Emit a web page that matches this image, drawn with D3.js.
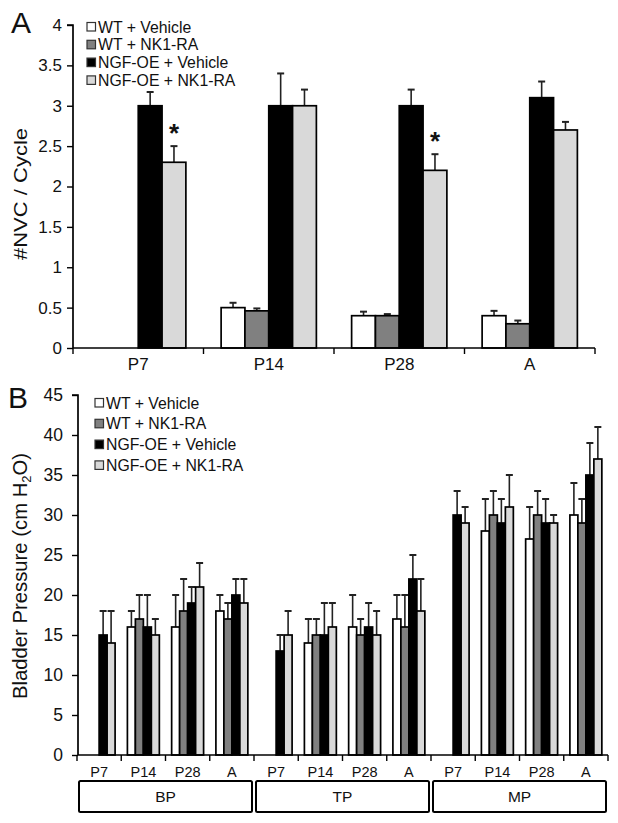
<!DOCTYPE html>
<html><head><meta charset="utf-8">
<script src="https://cdn.jsdelivr.net/npm/d3@7"></script>
<style>body{margin:0;background:#fff}svg{display:block;font-family:"Liberation Sans",Arial,sans-serif}</style>
</head><body><svg id="c" width="618" height="823"></svg>
<script>
// ---------- data ----------
const seriesNames = ["WT + Vehicle","WT + NK1-RA","NGF-OE + Vehicle","NGF-OE + NK1-RA"];
const seriesColors = ["#ffffff","#808080","#000000","#d9d9d9"];

// Panel A
const agesA = ["P7","P14","P28","A"];
const aWtVeh   = [null,0.5,0.4,0.4];
const aWtNK    = [null,0.46,0.4,0.3];
const aNgfVeh  = [3.0,3.0,3.0,3.1];
const aNgfNK   = [2.3,3.0,2.2,2.7];
const aWtVehErr  = [null,0.06,0.05,0.06];
const aWtNKErr   = [null,0.03,0.02,0.04];
const aNgfVehErr = [0.17,0.4,0.2,0.2];
const aNgfNKErr  = [0.2,0.2,0.2,0.1];
const aStarAge = ["P7","P28"]; // significance marks on NGF-OE + NK1-RA
const yTicksA = [0,0.5,1,1.5,2,2.5,3,3.5,4];

// Panel B
const phasesB = ["BP","TP","MP"];
const agesB = ["P7","P14","P28","A"];
const bWtVeh   = [null,16,16,18, null,14,16,17, null,28,27,30];
const bWtNK    = [null,17,18,17, null,15,15,16, null,30,30,29];
const bNgfVeh  = [15,16,19,20, 13,15,16,22, 30,29,29,35];
const bNgfNK   = [14,15,21,19, 15,16,15,18, 29,31,29,37];
const bWtVehErr  = [null,2,4,2, null,3,4,3, null,4,4,4];
const bWtNKErr   = [null,3,4,2, null,2,2,4, null,3,3,3];
const bNgfVehErr = [3,4,2,2, 2,4,3,3, 3,3,3,4];
const bNgfNKErr  = [4,2,3,3, 3,3,3,4, 2,4,1,4];
const yTicksB = [0,5,10,15,20,25,30,35,40,45];

// ---------- drawing ----------
const svg = d3.select("#c");
const font = "'Liberation Sans', Arial, sans-serif";
const ink = "#111";

function drawBars(g, cats, xOuter, xInner, y, valsList, errList){
  cats.forEach((c,ci)=>{
    valsList.forEach((vals,si)=>{
      const v = vals[ci]; if(v==null) return;
      const e = errList[si][ci];
      const x = xOuter(c)+xInner(si);
      const w = xInner.bandwidth();
      const cx = x + w/2;
      if(e){
        g.append("line").attr("x1",cx).attr("x2",cx).attr("y1",y(v)).attr("y2",y(v+e))
          .attr("stroke","#222").attr("stroke-width",1.6);
        g.append("line").attr("x1",cx-3.5).attr("x2",cx+3.5).attr("y1",y(v+e)).attr("y2",y(v+e))
          .attr("stroke","#222").attr("stroke-width",2);
      }
      g.append("rect").attr("x",x).attr("y",y(v)).attr("width",w).attr("height",y(0)-y(v))
        .attr("fill",seriesColors[si]).attr("stroke","#000").attr("stroke-width",1.7);
    });
  });
}

function legend(g, x0, y0, dy, fs){
  seriesNames.forEach((n,i)=>{
    g.append("rect").attr("x",x0).attr("y",y0+i*dy-4.5).attr("width",8.5).attr("height",8.5)
      .attr("fill",seriesColors[i]).attr("stroke","#333").attr("stroke-width",1.2);
    g.append("text").attr("x",x0+11).attr("y",y0+i*dy).attr("dy","0.36em")
      .attr("font-size",fs).attr("fill",ink).text(n);
  });
}

function yAxis(g, y, x, ticks, fmt, fs, pad){
  const ax = d3.axisLeft(y).tickValues(ticks).tickSize(6).tickPadding(pad).tickFormat(fmt);
  const a = g.append("g").attr("transform",`translate(${x},0)`).call(ax);
  a.select(".domain").attr("stroke","#000").attr("stroke-width",1.7).attr("d",`M-6,${y(ticks[ticks.length-1])}H0V${y(0)}`);
  a.selectAll(".tick line").attr("stroke","#000").attr("stroke-width",1.4);
  a.selectAll(".tick text").attr("font-size",fs).attr("font-family",font).attr("fill",ink);
  return a;
}

// ===== Panel A =====
{
  const g = svg.append("g");
  const y = d3.scaleLinear().domain([0,4]).range([348,25]);
  const x = d3.scaleBand().domain(agesA).range([73,595]).padding(0);
  const xi = d3.scaleBand().domain([0,1,2,3]).range([0,x.bandwidth()]).paddingInner(0).paddingOuter(0.74);
  drawBars(g, agesA, x, xi, y, [aWtVeh,aWtNK,aNgfVeh,aNgfNK], [aWtVehErr,aWtNKErr,aNgfVehErr,aNgfNKErr]);
  yAxis(g, y, 73, yTicksA, d=>d3.format("")(d), 17, 5);
  g.append("line").attr("x1",73).attr("x2",595).attr("y1",y(0)).attr("y2",y(0)).attr("stroke","#000").attr("stroke-width",1.7);
  agesA.concat([null]).forEach(c=>{
    const xx = c==null ? x.range()[1] : x(c);
    g.append("line").attr("x1",xx).attr("x2",xx).attr("y1",y(0)).attr("y2",y(0)+6).attr("stroke","#000").attr("stroke-width",1.4);
  });
  agesA.forEach(c=>{
    g.append("text").attr("x",x(c)+x.bandwidth()/2).attr("y",370).attr("text-anchor","middle")
      .attr("font-size",17).attr("fill",ink).text(c);
  });
  aStarAge.forEach(c=>{
    const ci = agesA.indexOf(c);
    const v = aNgfNK[ci]+aNgfNKErr[ci];
    g.append("text").attr("x",x(c)+xi(3)+xi.bandwidth()/2).attr("y",y(v)-4).attr("text-anchor","middle")
      .attr("font-size",26).attr("font-weight","bold").attr("fill",ink).text("*");
  });
  legend(g, 87, 27, 17.8, 15.8);
  g.append("text").attr("transform","translate(27,194) rotate(-90)").attr("text-anchor","middle")
    .attr("font-size",19).attr("textLength",132).attr("lengthAdjust","spacingAndGlyphs")
    .attr("fill",ink).text("#NVC / Cycle");
  g.append("text").attr("x",11).attr("y",33).attr("font-size",30).attr("fill",ink).text("A");
}

// ===== Panel B =====
{
  const g = svg.append("g");
  const y = d3.scaleLinear().domain([0,45]).range([755,395]);
  const keys = [];
  phasesB.forEach(p=>agesB.forEach(a=>keys.push(p+"|"+a)));
  const x = d3.scaleBand().domain(keys).range([77,608]).padding(0);
  const xi = d3.scaleBand().domain([0,1,2,3]).range([0,x.bandwidth()]).paddingInner(0).paddingOuter(0.77);
  drawBars(g, keys, x, xi, y, [bWtVeh,bWtNK,bNgfVeh,bNgfNK], [bWtVehErr,bWtNKErr,bNgfVehErr,bNgfNKErr]);
  yAxis(g, y, 78, yTicksB, d=>d, 17.5, 9);
  g.append("line").attr("x1",78).attr("x2",608).attr("y1",y(0)).attr("y2",y(0)).attr("stroke","#000").attr("stroke-width",1.7);
  keys.concat([null]).forEach(k=>{
    const xx = k==null ? x.range()[1] : x(k);
    g.append("line").attr("x1",xx).attr("x2",xx).attr("y1",y(0)).attr("y2",y(0)+6).attr("stroke","#000").attr("stroke-width",1.4);
  });
  keys.forEach(k=>{
    g.append("text").attr("x",x(k)+x.bandwidth()/2).attr("y",777).attr("text-anchor","middle")
      .attr("font-size",14.5).attr("fill",ink).text(k.split("|")[1]);
  });
  phasesB.forEach(p=>{
    const x0 = x(p+"|"+agesB[0]);
    const x1 = x(p+"|"+agesB[agesB.length-1])+x.bandwidth();
    g.append("rect").attr("x",x0+2).attr("y",781).attr("width",x1-x0-4).attr("height",31).attr("rx",1.5)
      .attr("fill","#fff").attr("stroke","#000").attr("stroke-width",2);
    g.append("text").attr("x",(x0+x1)/2).attr("y",802).attr("text-anchor","middle")
      .attr("font-size",15.5).attr("fill",ink).text(p);
  });
  legend(g, 95, 403, 20.8, 15.8);
  const t = g.append("text").attr("transform","translate(27,576) rotate(-90)").attr("text-anchor","middle")
    .attr("font-size",20.3).attr("fill",ink);
  t.append("tspan").text("Bladder Pressure (cm H");
  t.append("tspan").attr("font-size",13).attr("dy",4).text("2");
  t.append("tspan").attr("dy",-4).text("O)");
  g.append("text").attr("x",8).attr("y",408).attr("font-size",30).attr("fill",ink).text("B");
}
</script></body></html>
